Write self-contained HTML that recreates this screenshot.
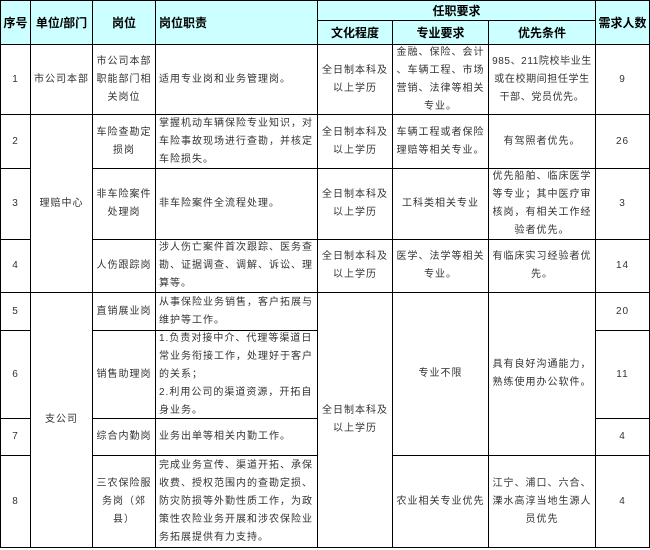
<!DOCTYPE html>
<html><head><meta charset="utf-8"><style>
body{margin:0;width:650px;height:550px;background:#fff;overflow:hidden}
#t{position:absolute;left:0;top:0;width:650px;height:548px;}
.c{position:absolute;box-sizing:border-box;border-right:1px solid #000;border-bottom:1px solid #000;display:flex;align-items:center;justify-content:center;text-align:center;font-family:"Liberation Sans","Noto Sans CJK SC",sans-serif;font-size:10px;letter-spacing:1px;line-height:18px;color:#333;padding:0 2px;line-break:anywhere}
.h{background:#ccffff;font-weight:bold;font-size:12px;color:#000;letter-spacing:0}
.l{justify-content:flex-start;text-align:left;padding:0 3px}
.lt{border-left:1px solid #000}.tp{border-top:1px solid #000}
</style></head><body><div id="t">
<div class="c h lt tp" style="left:0;top:0;width:31px;height:45px">序号</div>
<div class="c h tp" style="left:31px;top:0;width:62px;height:45px">单位/部门</div>
<div class="c h tp" style="left:93px;top:0;width:63px;height:45px">岗位</div>
<div class="c h tp l" style="left:156px;top:0;width:162px;height:45px">岗位职责</div>
<div class="c h tp" style="left:318px;top:0;width:278px;height:21px">任职要求</div>
<div class="c h" style="left:318px;top:21px;width:75px;height:24px">文化程度</div>
<div class="c h" style="left:393px;top:21px;width:96px;height:24px">专业要求</div>
<div class="c h" style="left:489px;top:21px;width:107px;height:24px">优先条件</div>
<div class="c h tp" style="left:596px;top:0;width:54px;height:45px">需求人数</div>

<div class="c lt" style="left:0;top:45px;width:31px;height:70px">1</div>
<div class="c lt" style="left:0;top:115px;width:31px;height:54px">2</div>
<div class="c lt" style="left:0;top:169px;width:31px;height:71px">3</div>
<div class="c lt" style="left:0;top:240px;width:31px;height:53px">4</div>
<div class="c lt" style="left:0;top:293px;width:31px;height:38px">5</div>
<div class="c lt" style="left:0;top:331px;width:31px;height:88px">6</div>
<div class="c lt" style="left:0;top:419px;width:31px;height:37px">7</div>
<div class="c lt" style="left:0;top:456px;width:31px;height:92px">8</div>

<div class="c" style="left:31px;top:45px;width:62px;height:70px">市公司本部</div>
<div class="c" style="left:31px;top:115px;width:62px;height:178px">理赔中心</div>
<div class="c" style="left:31px;top:293px;width:62px;height:255px">支公司</div>

<div class="c" style="left:93px;top:45px;width:63px;height:70px">市公司本部职能部门相关岗位</div>
<div class="c" style="left:93px;top:115px;width:63px;height:54px">车险查勘定损岗</div>
<div class="c" style="left:93px;top:169px;width:63px;height:71px">非车险案件处理岗</div>
<div class="c" style="left:93px;top:240px;width:63px;height:53px">人伤跟踪岗</div>
<div class="c" style="left:93px;top:293px;width:63px;height:38px">直销展业岗</div>
<div class="c" style="left:93px;top:331px;width:63px;height:88px">销售助理岗</div>
<div class="c" style="left:93px;top:419px;width:63px;height:37px">综合内勤岗</div>
<div class="c" style="left:93px;top:456px;width:63px;height:92px">三农保险服<br>务岗（郊<br>县）</div>

<div class="c l" style="left:156px;top:45px;width:162px;height:70px">适用专业岗和业务管理岗。</div>
<div class="c l" style="left:156px;top:115px;width:162px;height:54px">掌握机动车辆保险专业知识，对车险事故现场进行查勘，并核定车险损失。</div>
<div class="c l" style="left:156px;top:169px;width:162px;height:71px">非车险案件全流程处理。</div>
<div class="c l" style="left:156px;top:240px;width:162px;height:53px">涉人伤亡案件首次跟踪、医务查勘、证据调查、调解、诉讼、理算等。</div>
<div class="c l" style="left:156px;top:293px;width:162px;height:38px">从事保险业务销售，客户拓展与维护等工作。</div>
<div class="c l" style="left:156px;top:331px;width:162px;height:88px">1.负责对接中介、代理等渠道日常业务衔接工作，处理好于客户的关系；<br>2.利用公司的渠道资源，开拓自身业务。</div>
<div class="c l" style="left:156px;top:419px;width:162px;height:37px">业务出单等相关内勤工作。</div>
<div class="c l" style="left:156px;top:456px;width:162px;height:92px">完成业务宣传、渠道开拓、承保收费、授权范围内的查勘定损、防灾防损等外勤性质工作，为政策性农险业务开展和涉农保险业务拓展提供有力支持。</div>

<div class="c" style="left:318px;top:45px;width:75px;height:70px">全日制本科及以上学历</div>
<div class="c" style="left:318px;top:115px;width:75px;height:54px">全日制本科及以上学历</div>
<div class="c" style="left:318px;top:169px;width:75px;height:71px">全日制本科及以上学历</div>
<div class="c" style="left:318px;top:240px;width:75px;height:53px">全日制本科及以上学历</div>
<div class="c" style="left:318px;top:293px;width:75px;height:255px">全日制本科及以上学历</div>

<div class="c" style="left:393px;top:45px;width:96px;height:70px">金融、保险、会计<br>、车辆工程、市场<br>营销、法律等相关<br>专业。</div>
<div class="c" style="left:393px;top:115px;width:96px;height:54px">车辆工程或者保险<br>理赔等相关专业。</div>
<div class="c" style="left:393px;top:169px;width:96px;height:71px">工科类相关专业</div>
<div class="c" style="left:393px;top:240px;width:96px;height:53px">医学、法学等相关<br>专业。</div>
<div class="c" style="left:393px;top:293px;width:96px;height:163px">专业不限</div>
<div class="c" style="left:393px;top:456px;width:96px;height:92px">农业相关专业优先</div>

<div class="c" style="left:489px;top:45px;width:107px;height:70px;letter-spacing:0.6px">985、211院校毕业生<br>或在校期间担任学生<br>干部、党员优先。</div>
<div class="c" style="left:489px;top:115px;width:107px;height:54px">有驾照者优先。</div>
<div class="c" style="left:489px;top:169px;width:107px;height:71px">优先船舶、临床医学<br>等专业；其中医疗审<br>核岗，有相关工作经<br>验者优先。</div>
<div class="c" style="left:489px;top:240px;width:107px;height:53px">有临床实习经验者优<br>先。</div>
<div class="c" style="left:489px;top:293px;width:107px;height:163px">具有良好沟通能力，<br>熟练使用办公软件。</div>
<div class="c" style="left:489px;top:456px;width:107px;height:92px">江宁、浦口、六合、<br>溧水高淳当地生源人<br>员优先</div>

<div class="c" style="left:596px;top:45px;width:54px;height:70px">9</div>
<div class="c" style="left:596px;top:115px;width:54px;height:54px">26</div>
<div class="c" style="left:596px;top:169px;width:54px;height:71px">3</div>
<div class="c" style="left:596px;top:240px;width:54px;height:53px">14</div>
<div class="c" style="left:596px;top:293px;width:54px;height:38px">20</div>
<div class="c" style="left:596px;top:331px;width:54px;height:88px">11</div>
<div class="c" style="left:596px;top:419px;width:54px;height:37px">4</div>
<div class="c" style="left:596px;top:456px;width:54px;height:92px">4</div>
</div></body></html>
